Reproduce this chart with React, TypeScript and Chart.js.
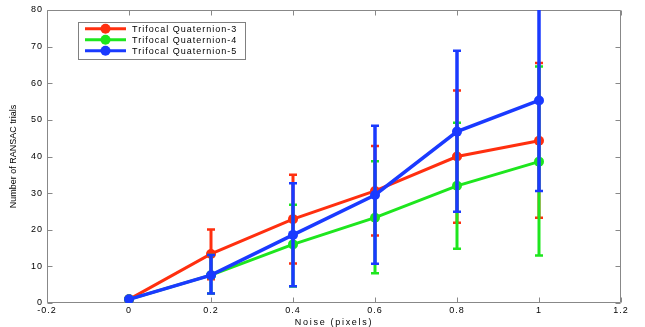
import React, { useEffect, useRef } from 'react';
import { Chart, registerables } from 'chart.js';

Chart.register(...registerables);

// ---------- data ----------
const noise = [0, 0.2, 0.4, 0.6, 0.8, 1.0];
const seriesNames = ['Trifocal Quaternion-3', 'Trifocal Quaternion-4', 'Trifocal Quaternion-5'];
const seriesColors = ['#ff2f0f', '#1ee61e', '#1a3aff'];

const q3Mean = [1, 13.4, 22.9, 30.6, 40.0, 44.3];
const q3Lower = [1, 6.5, 10.8, 18.4, 21.9, 23.3];
const q3Upper = [1, 20.1, 35.0, 42.9, 58.0, 65.5];

const q4Mean = [1, 7.6, 16.0, 23.3, 32.0, 38.6];
const q4Lower = [1, 2.6, 4.5, 8.1, 14.8, 13.0];
const q4Upper = [1, 13.1, 26.8, 38.7, 49.2, 64.6];

const q5Mean = [1, 7.6, 18.6, 29.5, 46.8, 55.3];
const q5Lower = [1, 2.6, 4.6, 10.7, 24.9, 30.6];
const q5Upper = [1, 13.1, 32.7, 48.4, 68.9, 81.0];

const xTicks = [-0.2, 0, 0.2, 0.4, 0.6, 0.8, 1, 1.2];
const xTickLabels = ['-0.2', '0', '0.2', '0.4', '0.6', '0.8', '1', '1.2'];
const yTicks = [0, 10, 20, 30, 40, 50, 60, 70, 80];
const yTickLabels = ['0', '10', '20', '30', '40', '50', '60', '70', '80'];

const xTitle = 'Noise (pixels)';
const yTitle = 'Number of RANSAC trials';

const FONT = "'Liberation Sans', Arial, Helvetica, sans-serif";

const means = [q3Mean, q4Mean, q5Mean];
const lowers = [q3Lower, q4Lower, q5Lower];
const uppers = [q3Upper, q4Upper, q5Upper];

export default function App() {
  const ref = useRef<HTMLCanvasElement | null>(null);

  useEffect(() => {
    document.body.style.margin = '0';
    const canvas = ref.current;
    if (!canvas) return;

    const frameColor = '#888888';

    const spacingPlugin = {
      id: 'spacing',
      beforeDraw(chart: any) {
        chart.ctx.letterSpacing = '1px';
      },
      afterLayout(chart: any) {
        const patch = (scale: any, spacing: string) => {
          if (!scale || scale._patchedTitle) return;
          const orig = scale.drawTitle.bind(scale);
          scale.drawTitle = (...args: any[]) => {
            const c = chart.ctx;
            const prev = c.letterSpacing;
            c.letterSpacing = spacing;
            orig(...args);
            c.letterSpacing = prev;
          };
          scale._patchedTitle = true;
        };
        patch(chart.scales.x, '1.7px');
        patch(chart.scales.y, '0px');
      },
    };

    const framePlugin = {
      id: 'frame',
      beforeDatasetsDraw(chart: any) {
        const { ctx, chartArea: ca, scales } = chart;
        ctx.save();
        ctx.strokeStyle = frameColor;
        ctx.lineWidth = 1;
        const l = Math.round(ca.left) + 0.5;
        const r = Math.round(ca.right) - 0.5;
        const t = Math.round(ca.top) + 0.5;
        const b = Math.round(ca.bottom) - 0.5;
        ctx.beginPath();
        ctx.moveTo(l, t);
        ctx.lineTo(r, t);
        ctx.lineTo(r, b);
        ctx.lineTo(l, b);
        ctx.closePath();
        const tl = 5;
        xTicks.forEach((v) => {
          const px = Math.round(scales.x.getPixelForValue(v)) + 0.5;
          ctx.moveTo(px, b);
          ctx.lineTo(px, b - tl);
          ctx.moveTo(px, t);
          ctx.lineTo(px, t + tl);
        });
        yTicks.forEach((v) => {
          const py = Math.round(scales.y.getPixelForValue(v)) + 0.5;
          ctx.moveTo(l, py);
          ctx.lineTo(l + tl, py);
          ctx.moveTo(r, py);
          ctx.lineTo(r - tl, py);
        });
        ctx.stroke();
        ctx.restore();
      },
    };

    const errorPlugin = {
      id: 'errorbars',
      afterDatasetDraw(chart: any, args: any) {
        const i = args.index;
        const { ctx, chartArea: ca, scales } = chart;
        const ds = chart.data.datasets[i];
        const lo = lowers[i];
        const hi = uppers[i];
        const bw = i === 2 ? 3.5 : 3;
        ctx.save();
        ctx.beginPath();
        ctx.rect(ca.left, ca.top, ca.right - ca.left, ca.bottom - ca.top);
        ctx.clip();
        ctx.strokeStyle = ds.borderColor;
        ctx.lineCap = 'butt';
        const cap = 4;
        noise.forEach((x, k) => {
          const px = scales.x.getPixelForValue(x);
          const pl = scales.y.getPixelForValue(lo[k]);
          const ph = scales.y.getPixelForValue(hi[k]);
          ctx.lineWidth = bw;
          ctx.beginPath();
          ctx.moveTo(px, pl);
          ctx.lineTo(px, ph);
          ctx.stroke();
          ctx.lineWidth = 2.5;
          ctx.beginPath();
          ctx.moveTo(px - cap, pl);
          ctx.lineTo(px + cap, pl);
          ctx.moveTo(px - cap, ph);
          ctx.lineTo(px + cap, ph);
          ctx.stroke();
        });
        ctx.restore();
      },
    };

    const legendPlugin = {
      id: 'customLegend',
      afterDraw(chart: any) {
        const { ctx, chartArea: ca } = chart;
        ctx.save();
        ctx.font = `9px ${FONT}`;
        ctx.letterSpacing = '1px';
        const labels = chart.data.datasets.map((d: any) => d.label);
        const textW = Math.max(...labels.map((l: string) => ctx.measureText(l).width));
        const x0 = ca.left + 31;
        const y0 = ca.top + 11.5;
        const rowH = 11;
        const sampleLeft = 7;
        const sampleLen = 41;
        const gap = 6;
        const w = sampleLeft + sampleLen + gap + textW + 8;
        const h = 36.5;
        ctx.fillStyle = '#ffffff';
        ctx.fillRect(x0, y0, w, h);
        ctx.strokeStyle = '#808080';
        ctx.lineWidth = 1;
        ctx.strokeRect(Math.round(x0) + 0.5, Math.round(y0) + 0.5, Math.round(w), Math.round(h));
        chart.data.datasets.forEach((d: any, k: number) => {
          const cy = y0 + 7.3 + k * rowH;
          const sx = x0 + sampleLeft;
          ctx.strokeStyle = d.borderColor;
          ctx.lineWidth = 3;
          ctx.beginPath();
          ctx.moveTo(sx, cy);
          ctx.lineTo(sx + sampleLen, cy);
          ctx.stroke();
          ctx.fillStyle = d.borderColor;
          ctx.beginPath();
          ctx.arc(sx + sampleLen / 2, cy, 5, 0, Math.PI * 2);
          ctx.fill();
          ctx.fillStyle = '#000000';
          ctx.textAlign = 'left';
          ctx.textBaseline = 'middle';
          ctx.fillText(d.label, sx + sampleLen + gap, cy + 0.5);
        });
        ctx.restore();
      },
    };

    const datasets = means.map((m, i) => ({
      label: seriesNames[i],
      data: noise.map((x, k) => ({ x, y: m[k] })),
      borderColor: seriesColors[i],
      backgroundColor: seriesColors[i],
      borderWidth: i === 2 ? 3.5 : 3,
      pointRadius: 5,
      pointHoverRadius: 5,
      pointBorderWidth: 0,
      pointBackgroundColor: seriesColors[i],
      showLine: true,
      fill: false,
      tension: 0,
      order: 3 - i,
    }));

    const gridOff = { display: false, drawTicks: false, tickLength: 0 };

    const chart = new Chart(canvas, {
      type: 'scatter',
      data: { datasets },
      options: {
        animation: false,
        responsive: false,
        devicePixelRatio: 1,
        events: [],
        layout: { padding: { left: 0, right: 24, top: 10, bottom: 0 } },
        plugins: {
          legend: { display: false },
          tooltip: { enabled: false },
        },
        scales: {
          x: {
            type: 'linear',
            min: -0.2,
            max: 1.2,
            grid: gridOff,
            border: { display: false },
            afterBuildTicks: (s: any) => {
              s.ticks = xTicks.map((v) => ({ value: v }));
            },
            afterFit: (s: any) => {
              s.height = 24;
            },
            ticks: {
              padding: 2,
              color: '#000000',
              font: { family: FONT, size: 9 },
              maxRotation: 0,
              autoSkip: false,
              callback: (v: any) => {
                const idx = xTicks.findIndex((t) => Math.abs(t - Number(v)) < 1e-9);
                return idx >= 0 ? xTickLabels[idx] : '';
              },
            },
            title: {
              display: true,
              text: xTitle,
              color: '#000000',
              font: { family: FONT, size: 9, lineHeight: 1 },
              padding: { top: 0, bottom: 0 },
            },
          },
          y: {
            type: 'linear',
            min: 0,
            max: 80,
            grid: gridOff,
            border: { display: false },
            afterBuildTicks: (s: any) => {
              s.ticks = yTicks.map((v) => ({ value: v }));
            },
            afterFit: (s: any) => {
              s.width = 47;
            },
            ticks: {
              padding: 4,
              color: '#000000',
              font: { family: FONT, size: 9 },
              autoSkip: false,
              callback: (v: any) => {
                const idx = yTicks.findIndex((t) => Math.abs(t - Number(v)) < 1e-9);
                return idx >= 0 ? yTickLabels[idx] : '';
              },
            },
            title: {
              display: true,
              text: yTitle,
              color: '#000000',
              font: { family: FONT, size: 9, lineHeight: 1.2 },
              padding: { top: 8.6, bottom: 0 },
            },
          },
        },
      } as any,
      plugins: [spacingPlugin, framePlugin, errorPlugin, legendPlugin] as any,
    });

    return () => {
      chart.destroy();
    };
  }, []);

  return (
    <div style={{ width: 645, height: 327, background: '#ffffff' }}>
      <canvas ref={ref} width={645} height={327} style={{ display: 'block', width: 645, height: 327 }} />
    </div>
  );
}
